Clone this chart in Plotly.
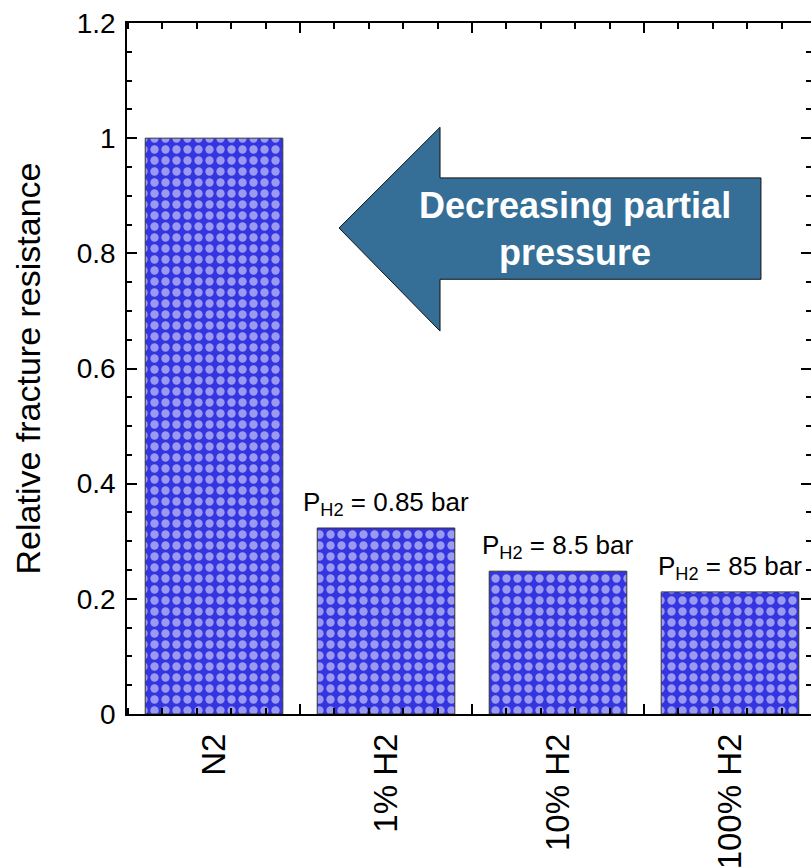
import plotly.graph_objects as go

# ---- data ----
categories = ["N2", "1% H2", "10% H2", "100% H2"]
values = [1.0, 0.323, 0.248, 0.212]
bar_labels = ["", "P<sub>H2</sub> = 0.85 bar", "P<sub>H2</sub> = 8.5 bar", "P<sub>H2</sub> = 85 bar"]
y_tickvals = [0, 0.2, 0.4, 0.6, 0.8, 1.0, 1.2]
y_ticktext = ["0", "0.2", "0.4", "0.6", "0.8", "1", "1.2"]
arrow_text = "Decreasing partial<br>pressure"

# arrow outline (data coordinates)
arrow_x = [0.727, 1.314, 1.314, 3.180, 3.180, 1.314, 1.314]
arrow_y = [0.844, 1.019, 0.931, 0.931, 0.755, 0.755, 0.665]

FONT = "Liberation Sans, Arial, Helvetica, sans-serif"
xpos = list(range(len(categories)))
xr = [-0.506, 3.471]

fig = go.Figure()
fig.add_trace(go.Bar(
    x=xpos, y=values, width=0.8,
    marker=dict(
        color="#3434e0",
        line=dict(color="#333333", width=1),
        pattern=dict(shape=".", fgcolor="#ffffff", size=11, solidity=0.45, fillmode="overlay"),
    ),
    showlegend=False, hoverinfo="skip",
))
# invisible helper trace for the tick-only axes
fig.add_trace(go.Scatter(x=[xr[0]], y=[0], xaxis="x2", yaxis="y2", mode="markers",
                         marker=dict(opacity=0), showlegend=False, hoverinfo="skip"))

path = "M " + " L ".join(f"{a},{b}" for a, b in zip(arrow_x, arrow_y)) + " Z"
fig.add_shape(type="path", path=path, xref="x", yref="y",
              fillcolor="#356f97", line=dict(color="#111111", width=1), layer="above")

fig.add_annotation(x=2.099, y=0.842, xref="x", yref="y", text="<b>" + arrow_text + "</b>",
                   showarrow=False, font=dict(family=FONT, size=36, color="white"),
                   align="center")

for xi, v, lab in zip(xpos, values, bar_labels):
    if lab:
        fig.add_annotation(x=xi, y=v, xref="x", yref="y", text=lab, showarrow=False,
                           yanchor="bottom", yshift=6,
                           font=dict(family=FONT, size=26, color="black"))

boundaries = [0.5, 1.5, 2.5]

fig.update_layout(
    width=811, height=868,
    margin=dict(l=127, r=0, t=23, b=154, autoexpand=False),
    plot_bgcolor="white", paper_bgcolor="white",
    font=dict(family=FONT, color="black"),
    xaxis=dict(
        range=xr, tickmode="array", tickvals=xpos, ticktext=categories,
        ticks="", tickangle=-90, tickfont=dict(size=33), ticklabelstandoff=12,
        showline=False, mirror=False,
        showgrid=False, zeroline=False, fixedrange=True,
    ),
    xaxis2=dict(
        overlaying="x", matches="x", side="bottom", range=xr,
        tickmode="array", tickvals=boundaries, ticks="inside", ticklen=10,
        tickwidth=1.5, tickcolor="black", showticklabels=False,
        showline=True, linecolor="black", linewidth=1.5,
        mirror="ticks", showgrid=False, zeroline=False,
        minor=dict(ticks="inside", ticklen=6, tickwidth=1.5, tickcolor="black",
                   tick0=0.5, dtick=0.2, showgrid=False),
    ),
    yaxis=dict(
        range=[0, 1.2], tickmode="array", tickvals=y_tickvals, ticktext=y_ticktext,
        ticks="inside", ticklen=10, tickwidth=1.5, tickcolor="black",
        tickfont=dict(size=28), ticklabelstandoff=4,
        minor=dict(ticks="inside", ticklen=5, tickwidth=1.5, tickcolor="black",
                   tick0=0, dtick=0.05, showgrid=False),
        showline=True, linecolor="black", linewidth=1.5, mirror=False,
        showgrid=False, zeroline=False,
        title=dict(text="Relative fracture resistance", font=dict(size=34), standoff=26),
    ),
    yaxis2=dict(
        overlaying="y", matches="y", side="right", range=[0, 1.2],
        tickmode="array", tickvals=y_tickvals, ticks="inside", ticklen=10,
        tickwidth=1.5, tickcolor="black", showticklabels=False,
        minor=dict(ticks="inside", ticklen=5, tickwidth=1.5, tickcolor="black",
                   tick0=0, dtick=0.05, showgrid=False),
        showline=False, showgrid=False, zeroline=False,
    ),
)

fig.write_html("out.html", config={"displayModeBar": False},
               post_script="document.body.style.margin='0px';document.body.style.overflow='hidden';")
